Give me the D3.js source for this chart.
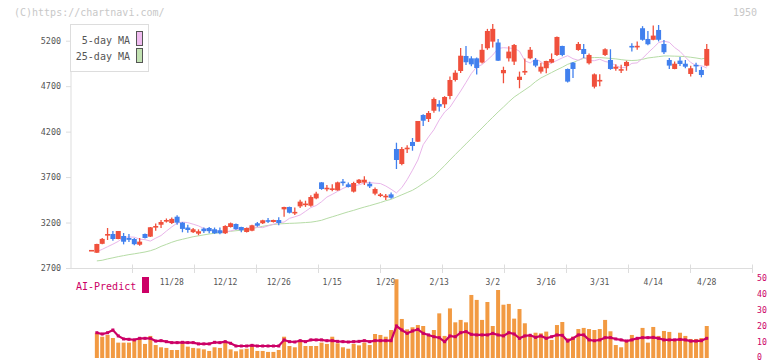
<!DOCTYPE html>
<html><head><meta charset="utf-8">
<script src="https://cdn.jsdelivr.net/npm/d3@7"></script>
<style>body{margin:0;background:#fff}svg{display:block}</style>
</head><body>
<script>
const dates = ["11/6","11/7","11/10","11/11","11/12","11/13","11/14","11/17","11/18","11/19","11/20","11/21","11/25","11/26","11/27","11/28",
"12/1","12/2","12/3","12/4","12/5","12/8","12/9","12/10","12/11","12/12","12/15","12/16","12/17","12/18","12/19","12/22","12/23","12/24","12/25","12/26",
"12/29","12/30","1/5","1/6","1/7","1/8","1/9","1/13","1/14","1/15","1/16","1/19","1/20","1/21","1/22","1/23","1/26","1/27","1/28","1/29",
"1/30","2/2","2/3","2/4","2/5","2/6","2/9","2/10","2/12","2/13","2/16","2/17","2/18","2/19","2/20","2/24","2/25","2/26","2/27","3/2",
"3/3","3/4","3/5","3/6","3/9","3/10","3/11","3/12","3/13","3/16","3/17","3/18","3/19","3/23","3/24","3/25","3/26","3/27","3/30","3/31",
"4/1","4/2","4/3","4/6","4/7","4/8","4/9","4/10","4/13","4/14","4/15","4/16","4/17","4/20","4/21","4/22","4/23","4/24","4/27","4/28"];
const open = [2888,2868,2966,3062,3074,3019,3052,3030,3019,2956,3074,3045,3150,3176,3216,3195,3264,3199,3145,3094,3078,3133,3140,3126,3115,3082,3151,3184,3151,3096,
3110,3192,3192,3222,3206,3228,3345,3371,3305,3378,3396,3385,3466,3642,3572,3565,3554,3648,3620,3540,3635,3640,3627,3518,3498,3484,3510,
4009,3844,4006,4086,4089,4383,4339,4430,4504,4500,4592,4768,4867,5032,5006,5006,4960,5117,5190,5180,4842,5006,4970,4768,4855,5006,4988,4860,4897,4959,
5043,5142,4889,4959,5098,5109,4952,4694,4755,5043,4988,4892,4875,4922,5138,5130,5337,5219,5210,5318,5164,4988,4889,4981,4947,4834,4930,4878,4926];
const high = [2892,2966,3030,3140,3107,3107,3085,3074,3030,3030,3080,3150,3190,3228,3245,3255,3280,3205,3175,3140,3125,3145,3150,3145,3145,3170,3200,3190,3155,3145,
3176,3205,3232,3250,3232,3258,3375,3375,3365,3452,3440,3500,3540,3645,3612,3620,3650,3679,3640,3650,3680,3708,3650,3585,3525,3515,3530,
4078,4030,4050,4130,4317,4390,4427,4576,4544,4590,4805,4875,5120,5142,5030,5015,5165,5330,5383,5220,4914,5138,5165,4860,5003,5130,5010,4958,4980,5060,
5245,5145,4895,4965,5186,5164,5060,4840,4830,5117,5106,4940,4935,4980,5172,5190,5360,5307,5366,5373,5208,5010,4970,5020,4988,4925,4958,4914,5164];
const low = [2888,2866,2960,3008,3000,3015,2960,2987,2950,2945,3025,3040,3110,3140,3200,3185,3175,3093,3088,3085,3060,3085,3082,3075,3070,3075,3145,3120,3093,3090,
3105,3155,3185,3195,3200,3170,3264,3300,3283,3360,3372,3375,3455,3560,3543,3543,3550,3605,3585,3530,3625,3613,3580,3500,3480,3448,3462,
3789,3830,3966,3990,4085,4262,4306,4408,4420,4460,4555,4750,4845,4933,4920,4827,4950,5100,5125,4978,4732,4970,4933,4677,4823,4995,4908,4840,4842,4952,
5032,5030,4740,4790,5090,5010,4937,4675,4700,5032,4880,4870,4845,4870,5080,5100,5200,5150,5205,5192,5055,4889,4885,4922,4897,4805,4856,4797,4920];
const close = [2892,2964,3020,3068,3019,3107,2989,3010,2962,2990,3030,3148,3156,3206,3222,3240,3199,3130,3118,3126,3104,3105,3105,3082,3082,3162,3192,3128,3115,3140,
3170,3165,3225,3212,3228,3195,3371,3308,3312,3430,3404,3481,3518,3569,3576,3569,3642,3636,3591,3635,3671,3671,3598,3569,3503,3488,3473,
3888,4009,4023,4042,4317,4320,4405,4559,4475,4581,4768,4848,5035,4963,4940,4900,5100,5307,5330,4980,4878,5080,5153,4804,4862,5100,4926,4914,4977,4999,
5241,5043,4750,4889,5164,5054,5043,4830,4765,5106,4889,4914,4882,4966,5130,5140,5210,5161,5256,5210,5073,4926,4947,4944,4914,4897,4922,4823,5109];
const ma5 = [null,2880,2905,2934,2962,2993,3036,3041,3039,3017,3012,2996,3028,3057,3106,3152,3194,3205,3199,3182,3163,3135,3117,3112,3104,3096,3107,3125,3129,3136,
3147,3149,3144,3163,3182,3200,3205,3246,3263,3283,3323,3365,3387,3429,3480,3510,3543,3575,3598,3603,3615,3635,3641,3633,3629,3602,3566,
3526,3584,3672,3776,3887,4056,4142,4221,4329,4415,4468,4558,4646,4741,4839,4911,4937,4988,5042,5115,5123,5119,5115,5084,4979,4955,5000,4969,4921,4956,
4983,5011,5035,5002,4984,5017,4980,4980,4996,4971,4960,4927,4901,4911,4951,4956,5006,5066,5121,5179,5195,5182,5125,5082,5020,4961,4926,4925,4900];
const ma25 = [null,2778,2785,2800,2812,2825,2836,2847,2856,2866,2876,2890,2910,2938,2960,2983,3002,3016,3030,3044,3054,3064,3074,3082,3090,3098,3104,3110,3116,3122,
3133,3146,3158,3168,3178,3185,3188,3191,3193,3196,3200,3204,3213,3225,3245,3263,3281,3300,3318,3334,3353,3370,3386,3403,3420,3440,3455,
3480,3505,3530,3555,3590,3630,3668,3710,3768,3826,3888,3948,4007,4065,4124,4182,4240,4300,4358,4416,4470,4527,4580,4620,4660,4700,4750,4790,4820,4850,
4880,4908,4940,4960,4985,5006,5012,5015,5015,5010,5005,5000,4992,4985,4982,4985,4995,5010,5017,5025,5032,5032,5030,5028,5025,5018,5010,5000,5010];
const volume = [null,15.8,13.3,14.4,12.5,9.6,9.6,9.6,10.8,12.3,8.8,13.8,8.1,6.7,6.3,5,5,9.2,7.1,6.3,6,5.4,4.4,6.7,6.3,9.6,5.4,4.2,5.4,5.8,
8.3,4.4,4.4,3.8,3.8,5,13.3,7.5,6.7,10.8,7.5,7.5,7.5,9.6,8.8,13.3,9.2,6.7,5.8,8.8,7.9,9.6,8.1,15,14.4,13.3,17.5,
49.2,24.4,17.9,19.2,20.6,20,14.2,17.5,27.9,13.8,31,22.3,23.8,22.3,39.4,36.3,23.8,35,20,42.5,33.3,33.8,24.6,30.6,21.7,13.8,15.8,15.4,16.5,11.3,
20.6,22.5,12.3,13.3,18.1,18.8,18.1,17.5,18.1,23.8,16.7,8.1,6.7,10.2,14.4,12.3,18.8,9.6,19.4,13.8,16.9,16.3,11.3,15.8,13.8,11.9,11.9,12.5,20];
const aiPredict = [null,15.8,15,15.8,17.5,13.8,11.9,11.7,11.3,12.3,12.3,12.3,10.6,10.8,10.2,9.6,9.6,9.8,9.6,9.6,8.8,8.8,8.8,9.8,9.6,10.2,9.2,7.5,7.5,7.5,
7.9,7.5,7.5,7.5,7.5,7.5,11.3,10.2,10,10.8,10.2,11.3,11.3,11.3,10.8,10.8,10.4,10.2,10,10.2,10.4,10.8,10.2,10.8,10.8,10.8,10.8,
20,17.5,15.4,16.9,17.9,15.4,14.4,13.3,12.7,10.2,13.8,13.3,15.8,16.5,14.8,14.4,14.4,14.4,15.4,14.4,13.8,15.8,15,12.3,13.8,14.2,12.9,13.8,12.3,13.3,
14.4,14.2,10.6,12.3,14.4,14.4,11.3,10.8,11.3,12.7,12.7,11.9,11.3,10.6,11.3,12.3,12.7,12.7,12.9,12.3,11.3,11.3,11.3,11.6,11.3,10.6,10.6,10.8,12.3];
const priceTicks = [2700,3200,3700,4200,4700,5200];
const volTicks = [0,10,20,30,40,50];
const dateLabels = ["11/28","12/12","12/26","1/15","1/29","2/13","3/2","3/16","3/31","4/14","4/28"];
const legendItems = ["5-day MA","25-day MA"];

const W = 772, H = 361;
const RED = "#f0503c", BLUE = "#4180ee", PINK = "#e9b5ea", GREEN = "#b6dca6", MAG = "#cc0066", ORANGE = "#f29a42";
const MONO = "'DejaVu Sans Mono', monospace";
const svg = d3.select("body").append("svg").attr("width", W).attr("height", H);

const x = d3.scalePoint().domain(dates).range([91.5, 706.75]);
const y = d3.scaleLinear().domain([2700, 5200]).range([268, 40.7]);
const yv = d3.scaleLinear().domain([0, 50]).range([358, 278]);
const grid = d3.scaleLinear().domain([0, 11]).range([70, 752]);

// copyright & code
svg.append("text").attr("x", 14).attr("y", 16).attr("font-family", MONO).attr("font-size", 10).attr("fill", "#c8c8c8").text("(C)https://chartnavi.com/");
svg.append("text").attr("x", 757).attr("y", 16).attr("text-anchor", "end").attr("font-family", MONO).attr("font-size", 10).attr("fill", "#c8c8c8").text("1950");

// axes
const yAxis = svg.append("g").attr("transform", "translate(71,0)")
  .call(d3.axisLeft(y).tickValues(priceTicks).tickSize(5).tickPadding(5).tickFormat(d3.format("d")));
yAxis.select(".domain").attr("stroke", "#ddd").attr("d", "M0,24V268");
yAxis.selectAll(".tick line").attr("stroke", "#ddd");
yAxis.selectAll(".tick text").attr("font-family", MONO).attr("font-size", 8.4).attr("fill", "#555");

const xg = svg.append("g");
xg.append("line").attr("x1", 71).attr("x2", 752).attr("y1", 268.5).attr("y2", 268.5).attr("stroke", "#ddd");
xg.selectAll("line.t").data(d3.range(1, 12)).join("line").attr("class", "t")
  .attr("x1", d => grid(d) + 0.5).attr("x2", d => grid(d) + 0.5).attr("y1", 264.5).attr("y2", 273).attr("stroke", "#ddd");

// MA lines
const line = d3.line().defined(d => d[1] != null).x(d => x(d[0])).y(d => y(d[1]));
svg.append("path").datum(dates.map((d, i) => [d, ma25[i]])).attr("d", line).attr("fill", "none").attr("stroke", GREEN).attr("stroke-width", 1);
svg.append("path").datum(dates.map((d, i) => [d, ma5[i]])).attr("d", line).attr("fill", "none").attr("stroke", PINK).attr("stroke-width", 1);

// candles
const bw = 5;
const cg = svg.append("g");
dates.forEach((d, i) => {
  const up = close[i] >= open[i];
  const col = up ? RED : BLUE;
  const cx = x(d);
  cg.append("line").attr("x1", cx).attr("x2", cx).attr("y1", y(high[i])).attr("y2", y(low[i])).attr("stroke", col).attr("stroke-width", 1.3);
  const top = y(Math.max(open[i], close[i])), bot = y(Math.min(open[i], close[i]));
  const h = Math.max(1.6, bot - top);
  cg.append("rect").attr("x", cx - bw / 2).attr("y", (top + bot) / 2 - h / 2).attr("width", bw).attr("height", h).attr("fill", col);
});

// legend
const lg = svg.append("g");
lg.append("rect").attr("x", 70.5).attr("y", 24.5).attr("width", 78).attr("height", 47).attr("fill", "#fff").attr("stroke", "#ddd");
legendItems.forEach((t, i) => {
  lg.append("text").attr("x", 130).attr("y", 44 + i * 16).attr("text-anchor", "end").attr("font-family", MONO).attr("font-size", 10).attr("fill", "#555").text(t);
  lg.append("rect").attr("x", 136.5).attr("y", 31.5 + i * 17).attr("width", 6).attr("height", 14).attr("fill", i ? "#c2e2b2" : "#f0bcf0").attr("stroke", "#555");
});

// date labels
svg.append("g").selectAll("text").data(dateLabels).join("text")
  .attr("x", d => x(d)).attr("y", 285).attr("text-anchor", "middle").attr("font-family", MONO).attr("font-size", 8).attr("fill", "#555").text(d => d);

// AI-Predict label
svg.append("text").attr("x", 76).attr("y", 289.5).attr("font-family", MONO).attr("font-size", 10).attr("fill", MAG).text("AI-Predict");
svg.append("rect").attr("x", 142).attr("y", 277).attr("width", 7).attr("height", 16).attr("fill", MAG);

// volume bars
svg.append("g").selectAll("rect").data(dates.map((d, i) => [d, volume[i]]).filter(d => d[1] != null)).join("rect")
  .attr("x", d => x(d[0]) - 2).attr("y", d => yv(d[1])).attr("width", 4).attr("height", d => yv(0) - yv(d[1])).attr("fill", ORANGE);

// AI line
const aiData = dates.map((d, i) => [d, aiPredict[i]]).filter(d => d[1] != null);
svg.append("path").datum(aiData).attr("d", d3.line().x(d => x(d[0])).y(d => yv(d[1]))).attr("fill", "none").attr("stroke", MAG).attr("stroke-width", 2.2);
svg.append("g").selectAll("rect").data(aiData).join("rect")
  .attr("x", d => x(d[0]) - 1.5).attr("y", d => yv(d[1]) - 1.5).attr("width", 3).attr("height", 3).attr("fill", MAG);

// right volume axis labels
svg.append("g").selectAll("text").data(volTicks).join("text")
  .attr("x", 757).attr("y", d => Math.min(yv(d) + 3, 359.5)).attr("font-family", MONO).attr("font-size", 8.2).attr("fill", MAG).text(d => d);
</script>
</body></html>
